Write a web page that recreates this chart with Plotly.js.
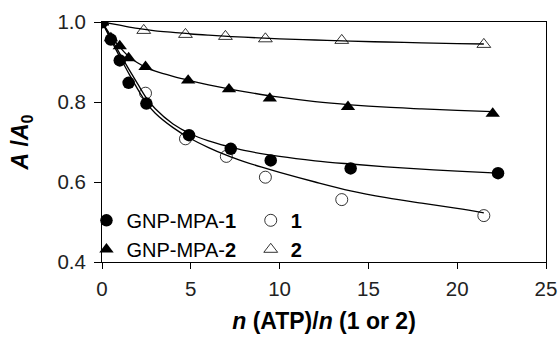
<!DOCTYPE html>
<html><head><meta charset="utf-8">
<script src="https://cdn.plot.ly/plotly-3.0.1.min.js"></script>
<style>body{margin:0;background:#fff}#c{width:560px;height:338px}</style>
</head><body><div id="c"></div>
<script>
// Measured points
const gnp1X = [0, 0.5, 1, 1.5, 2.5, 4.9, 7.25, 9.5, 14, 22.3];
const gnp1Y = [1, 0.956, 0.904, 0.848, 0.796, 0.717, 0.683, 0.654, 0.634, 0.622];
const free1X = [0, 2.45, 4.7, 7, 9.2, 13.5, 21.5];
const free1Y = [1, 0.822, 0.708, 0.664, 0.612, 0.556, 0.516];
const gnp2X = [0, 0.5, 1, 1.5, 2.45, 4.85, 7.15, 9.45, 13.85, 22];
const gnp2Y = [1, 0.96, 0.94, 0.91, 0.888, 0.854, 0.832, 0.809, 0.788, 0.771];
const free2X = [0, 2.35, 4.7, 6.95, 9.2, 13.5, 21.5];
const free2Y = [1, 0.979, 0.969, 0.964, 0.958, 0.954, 0.944];

// Fitted curves
const fitGnp1X = [0, 0.5, 1, 1.5, 2, 2.5, 3, 4, 5, 6, 7, 8, 10, 12, 14, 16, 18, 20, 22.3];
const fitGnp1Y = [1, 0.96, 0.921, 0.883, 0.846, 0.81, 0.783, 0.745, 0.72, 0.703, 0.69, 0.679, 0.664, 0.653, 0.645, 0.638, 0.632, 0.627, 0.622];
const fitFree1X = [0, 0.5, 1, 1.5, 2, 2.5, 3, 4, 5, 6, 7, 8, 9, 10, 12, 14, 16, 18, 20, 21.5];
const fitFree1Y = [1, 0.956, 0.913, 0.872, 0.833, 0.798, 0.772, 0.736, 0.708, 0.686, 0.667, 0.651, 0.637, 0.624, 0.6, 0.578, 0.561, 0.547, 0.534, 0.523];
const fitGnp2X = [0, 0.5, 1, 1.5, 2, 2.5, 3, 4, 5, 6, 7, 8, 10, 12, 14, 16, 18, 20, 22];
const fitGnp2Y = [1, 0.966, 0.937, 0.914, 0.898, 0.886, 0.877, 0.864, 0.853, 0.843, 0.834, 0.826, 0.812, 0.801, 0.793, 0.787, 0.783, 0.779, 0.776];
const fitFree2X = [0, 1, 2, 3, 4, 5, 6, 8, 10, 12, 14, 16, 18, 20, 21.5];
const fitFree2Y = [1, 0.992, 0.984, 0.978, 0.974, 0.97, 0.967, 0.962, 0.958, 0.955, 0.952, 0.95, 0.948, 0.946, 0.945];

const xTicks = [0, 5, 10, 15, 20, 25];
const yTicks = [0.4, 0.6, 0.8, 1.0];
const yTickText = ['0.4', '0.6', '0.8', '1.0'];

const fitLine = {color: '#000', width: 1.3, shape: 'spline'};
const traces = [
  {x: fitGnp1X, y: fitGnp1Y, mode: 'lines', line: fitLine, showlegend: false, hoverinfo: 'skip'},
  {x: fitFree1X, y: fitFree1Y, mode: 'lines', line: fitLine, showlegend: false, hoverinfo: 'skip'},
  {x: fitGnp2X, y: fitGnp2Y, mode: 'lines', line: fitLine, showlegend: false, hoverinfo: 'skip'},
  {x: fitFree2X, y: fitFree2Y, mode: 'lines', line: fitLine, showlegend: false, hoverinfo: 'skip'},
  {x: free1X, y: free1Y, mode: 'markers', name: '<b>1</b>', legend: 'legend2', legendgroup: 'c',
   marker: {symbol: 'circle-open', size: 12, color: '#000', line: {width: 0.8, color: '#000'}}},
  {x: free2X, y: free2Y, mode: 'markers', name: '<b>2</b>', legend: 'legend2', legendgroup: 'd',
   marker: {symbol: 'triangle-up-open', size: 12, color: '#000', line: {width: 0.8, color: '#000'}}},
  {x: gnp1X, y: gnp1Y, mode: 'markers', name: 'GNP-MPA-<b>1</b>', legend: 'legend', legendgroup: 'a',
   marker: {symbol: 'circle', size: 12.5, color: '#000'}},
  {x: gnp2X, y: gnp2Y, mode: 'markers', name: 'GNP-MPA-<b>2</b>', legend: 'legend', legendgroup: 'b',
   marker: {symbol: 'triangle-up', size: 12.5, color: '#000'}}
];

const layout = {
  width: 560, height: 338,
  margin: {l: 102, r: 14, t: 22, b: 76},
  paper_bgcolor: '#fff', plot_bgcolor: '#fff',
  font: {family: 'Liberation Sans, Arial, sans-serif', size: 20, color: '#222'},
  xaxis: {
    range: [0, 25], tickvals: xTicks, ticks: 'outside', ticklen: 6, tickcolor: '#000',
    showline: true, linecolor: '#000', linewidth: 1, mirror: true, showgrid: false, zeroline: false,
    tickfont: {size: 20.5, color: '#222'}, ticklabelstandoff: 2,
    title: {text: '<b><i>n</i> (ATP)/<i>n</i> (1 or 2)</b>', font: {size: 23, color: '#000'}, standoff: 14}
  },
  yaxis: {
    range: [0.4, 1.0], tickvals: yTicks, ticktext: yTickText, ticks: 'outside', ticklen: 7, tickcolor: '#000',
    showline: true, linecolor: '#000', linewidth: 1, mirror: true, showgrid: false, zeroline: false,
    tickfont: {size: 20.5, color: '#222'}, ticklabelstandoff: 4,
    title: {text: '<b><i>A</i> /<i>A</i><sub>0</sub></b>', font: {size: 23, color: '#000'}, standoff: 22}
  },
  legend: {x: -0.035, xanchor: 'left', y: 0.255, yanchor: 'top', bgcolor: 'rgba(0,0,0,0)',
           font: {size: 20, color: '#000'}, tracegroupgap: 0, traceorder: 'normal'},
  legend2: {x: 0.335, xanchor: 'left', y: 0.255, yanchor: 'top', bgcolor: 'rgba(0,0,0,0)',
           font: {size: 20, color: '#000'}, tracegroupgap: 0, traceorder: 'normal'},
  showlegend: true
};

Plotly.newPlot('c', traces, layout, {displayModeBar: false, staticPlot: true});
</script></body></html>
